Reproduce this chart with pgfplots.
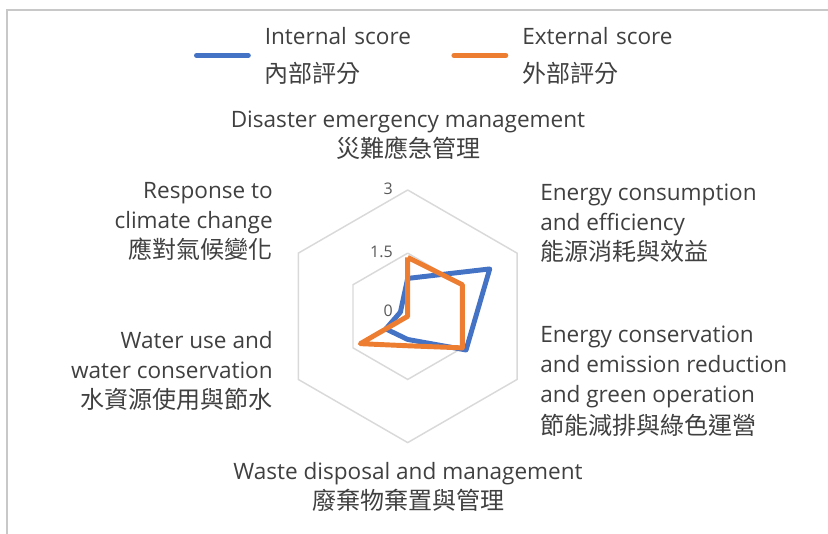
\documentclass[border=0pt]{standalone}
\usepackage{fontspec}
\setmainfont{Open Sans}[Scale=0.94]
\newfontfamily\cjk{Noto Sans CJK TC}
\usepackage{pgfplots}
\pgfplotsset{compat=1.18}
\usepgfplotslibrary{polar}
\definecolor{serA}{HTML}{4472C4}
\definecolor{serB}{HTML}{ED7D31}
\definecolor{txt}{HTML}{404040}
\definecolor{gridc}{HTML}{D9D9D9}
\definecolor{tickc}{HTML}{595959}
\definecolor{framec}{HTML}{C8C8C8}
\begin{document}
\begin{tikzpicture}[x=0.75pt,y=-0.75pt]
\useasboundingbox (0,0) rectangle (828,534);
\draw[framec, line width=1.3pt] (7,534) -- (7,10) -- (828,10);
\coordinate (C) at (407.7,316.3);
\begin{polaraxis}[
  at={(C)}, anchor=center,
  scale only axis, width=189.45pt, height=189.45pt,
  xmin=0, xmax=360, ymin=0, ymax=3,
  hide axis, clip=false,
  legend columns=2,
  legend cell align=left,
  legend style={draw=none, fill=none, inner sep=0pt, outer sep=0pt,
    at={(-0.346,1.582)}, anchor=west,
    font=\fontsize{18}{25.5}\selectfont, text=txt,
    nodes={inner sep=0pt, text width=140pt, align=left},
    /tikz/every odd column/.append style={column sep=10.5pt}},
  legend image code/.code={\draw[#1, line cap=round] (1.9pt,-9.35pt) -- (40.8pt,-9.35pt);},
]
\addplot[gridc, line width=1.1pt, forget plot] coordinates {(90,3)(30,3)(330,3)(270,3)(210,3)(150,3)(90,3)};
\addplot[gridc, line width=1.1pt, forget plot] coordinates {(90,1.5)(30,1.5)(330,1.5)(270,1.5)(210,1.5)(150,1.5)(90,1.5)};
\addplot[serA, line width=3.7pt, line join=round] coordinates {(90,0.9)(30,2.25)(330,1.6)(270,0.55)(210,0.6)(150,0.2)(90,0.9)};
\addlegendentry{\begin{tabular}[c]{@{}l@{}}Internal score\\[3pt]{\cjk 內部評分}\end{tabular}}
\addplot[serB, line width=3.7pt, line join=round] coordinates {(90,1.4)(30,1.5)(330,1.5)(270,0.7)(210,1.3)(150,0)(90,1.4)};
\addlegendentry{\begin{tabular}[c]{@{}l@{}}External score\\[3pt]{\cjk 外部評分}\end{tabular}}
\end{polaraxis}
\begin{scope}[every node/.style={inner sep=0pt, text=txt, font=\fontsize{18}{22.5}\selectfont}]
\node[align=center] at (408,135) {Disaster emergency management\\{\cjk 災難應急管理}};
\node[align=left, anchor=west] at (540,223) {Energy consumption\\and efficiency\\{\cjk 能源消耗與效益}};
\node[align=left, anchor=west] at (540,381.5) {Energy conservation\\and emission reduction\\and green operation\\[1.5pt]{\cjk 節能減排與綠色運營}};
\node[align=center] at (408,486.5) {Waste disposal and management\\{\cjk 廢棄物棄置與管理}};
\node[align=right, anchor=east] at (273,370.5) {Water use and\\water conservation\\{\cjk 水資源使用與節水}};
\node[align=right, anchor=east] at (273,221.5) {Response to\\climate change\\{\cjk 應對氣候變化}};
\end{scope}
\begin{scope}[every node/.style={inner sep=0pt, anchor=east, text=tickc, font=\fontsize{12.75}{15}\selectfont}]
\node at (393,189) {3};
\node at (393,252) {1.5};
\node at (393,311) {0};
\end{scope}
\end{tikzpicture}
\end{document}
